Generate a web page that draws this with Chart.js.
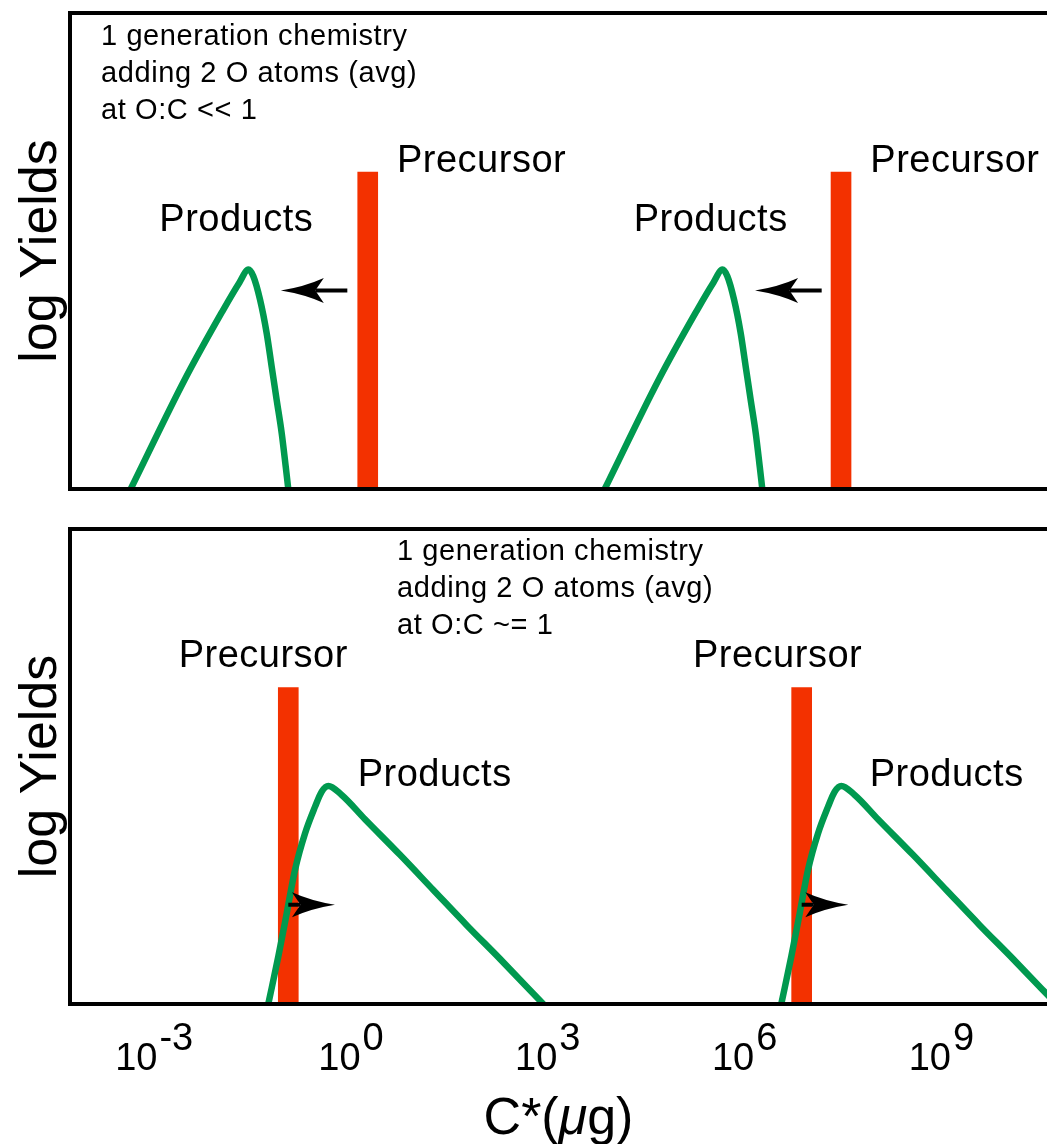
<!DOCTYPE html>
<html>
<head>
<meta charset="utf-8">
<script src="https://cdn.jsdelivr.net/npm/chart.js@4.4.1/dist/chart.umd.min.js"></script>
<style>
html, body { margin: 0; padding: 0; background: #fff; }
#wrap { position: relative; width: 1047px; height: 1144px; overflow: hidden; }
#topChart { position: absolute; left: 0; top: 0; }
#bottomChart { position: absolute; left: 0; top: 510px; }
</style>
</head>
<body>
<div id="wrap">
  <canvas id="topChart" width="1047" height="510"></canvas>
  <canvas id="bottomChart" width="1047" height="634"></canvas>
</div>
<script>
// x = log10 C*(ug), y = log yield (arbitrary units, 0..100)
const panels = ['at O:C << 1', 'at O:C ~= 1'];
const tickExponents = [-3, 0, 3, 6, 9];
const xMin = -4.2835;
const xMax = 10.6098;

// top panel: products shifted to lower volatility
const top1X = [-3.358, -2.530, -1.966, -1.700, -1.563, -1.489, -1.387, -1.285, -1.209, -1.133, -1.056, -0.995, -0.956];
const top1Y = [0, 23.1, 37.2, 43.4, 46.1, 44.7, 39.8, 32.7, 25.7, 18.7, 11.7, 4.7, 0];
const top2X = [3.868, 4.696, 5.260, 5.526, 5.663, 5.737, 5.839, 5.941, 6.017, 6.093, 6.170, 6.231, 6.270];
const top2Y = [0, 23.1, 37.2, 43.4, 46.1, 44.7, 39.8, 32.7, 25.7, 18.7, 11.7, 4.7, 0];
const topPrecX = [0.255, 7.47];
const topPrecY = [66.6, 66.6];
const topArrowFrom = [-0.056, 7.175];
const topArrowTo = [-1.07, 6.159];
const topArrowY = [41.7, 41.7];

// bottom panel: products spread to higher volatility
const bot1X = [-1.261, -1.108, -0.980, -0.854, -0.701, -0.549, -0.447, -0.346, -0.142, 0.213, 0.747, 1.255, 1.764, 2.271, 2.931];
const bot1Y = [0, 10.0, 19.1, 28.2, 35.9, 41.5, 44.7, 45.9, 44.0, 38.9, 31.4, 24.0, 16.6, 9.5, 0];
const bot2X = [6.559, 6.712, 6.840, 6.966, 7.119, 7.271, 7.373, 7.474, 7.678, 8.033, 8.567, 9.075, 9.584, 10.091, 10.751];
const bot2Y = [0, 10.0, 19.1, 28.2, 35.9, 41.5, 44.7, 45.9, 44.0, 38.9, 31.4, 24.0, 16.6, 9.5, 0];
const botPrecX = [-0.956, 6.87];
const botPrecY = [66.6, 66.6];
const botArrowFrom = [-0.956, 6.87];
const botArrowTo = [-0.244, 7.581];
const botArrowY = [20.9, 20.9];

const FONT = '"Liberation Sans", Arial, Helvetica, sans-serif';
const GREEN = '#00994f';
const RED = '#f33100';

Chart.defaults.font.family = FONT;

function pts(xs, ys) {
    return xs.map((v, i) => ({x: v, y: ys[i]}));
}

function drawText(ctx, txt, x, y, size, spacing) {
    ctx.save();
    ctx.font = size + 'px ' + FONT;
    ctx.letterSpacing = spacing + 'px';
    ctx.fillStyle = '#000';
    ctx.textAlign = 'left';
    ctx.textBaseline = 'alphabetic';
    ctx.fillText(txt, x, y);
    ctx.restore();
}

function drawArrow(ctx, x0, x1, y) {
    const dir = Math.sign(x1 - x0);
    const len = 43, half = 12.5, notch = 8.5;
    const bx = x1 - dir * len;
    ctx.save();
    ctx.strokeStyle = '#000';
    ctx.fillStyle = '#000';
    ctx.lineWidth = 4;
    ctx.beginPath();
    ctx.moveTo(x0, y);
    ctx.lineTo(bx + dir * notch, y);
    ctx.stroke();
    ctx.beginPath();
    ctx.moveTo(x1, y);
    ctx.quadraticCurveTo(x1 - dir * len * 0.55, y - half * 0.3, bx, y - half);
    ctx.lineTo(bx + dir * notch, y);
    ctx.lineTo(bx, y + half);
    ctx.quadraticCurveTo(x1 - dir * len * 0.55, y + half * 0.3, x1, y);
    ctx.closePath();
    ctx.fill();
    ctx.restore();
}

function notesPlugin(p) {
    return {
        id: 'notes',
        afterDatasetsDraw(chart) {
            const {ctx, scales: {x, y}} = chart;
            p.arrowFrom.forEach((f, i) => {
                drawArrow(ctx, x.getPixelForValue(f), x.getPixelForValue(p.arrowTo[i]), y.getPixelForValue(p.arrowY[i]));
            });
            p.labels.forEach(l => {
                drawText(ctx, l.text, x.getPixelForValue(l.x), y.getPixelForValue(l.y), 38, 0.5);
            });
            p.note.lines.forEach((t, i) => {
                drawText(ctx, t, x.getPixelForValue(p.note.x), y.getPixelForValue(p.note.y) + i * 37, 29, 0.6);
            });
        }
    };
}

// tick labels 10^n and the axis title, only under the bottom panel
const axisLabels = {
    id: 'axisLabels',
    afterDraw(chart) {
        const {ctx, chartArea, scales: {x}} = chart;
        ctx.save();
        ctx.fillStyle = '#000';
        ctx.textBaseline = 'alphabetic';
        ctx.textAlign = 'left';
        ctx.font = '38px ' + FONT;
        for (let e of tickExponents) {
            const px = x.getPixelForValue(e);
            const ex = String(e);
            const w10 = ctx.measureText('10').width;
            const we = ctx.measureText(ex).width;
            const start = px - (w10 + 2 + we) / 2;
            ctx.fillText('10', start, chartArea.bottom + 65.5);
            ctx.fillText(ex, start + w10 + 2, chartArea.bottom + 46);
        }
        // C*(μg)
        const parts = [['C*(', ''], ['\u03bc', 'italic '], ['g)', '']];
        let total = 0;
        for (let pt of parts) {
            ctx.font = pt[1] + '52px ' + FONT;
            total += ctx.measureText(pt[0]).width;
        }
        let cx = (chartArea.left + chartArea.right) / 2 - total / 2;
        for (let pt of parts) {
            ctx.font = pt[1] + '52px ' + FONT;
            ctx.fillText(pt[0], cx, chartArea.bottom + 129.5);
            cx += ctx.measureText(pt[0]).width;
        }
        ctx.restore();
    }
};

function makePanel(id, p) {
    const border = {display: true, color: '#000', width: 4, z: 1};
    return new Chart(document.getElementById(id), {
        type: 'line',
        data: {
            datasets: [
                {type: 'line', label: 'Products', data: pts(p.c1x, p.c1y), borderColor: GREEN, borderWidth: 6.5,
                 pointRadius: 0, fill: false, cubicInterpolationMode: 'monotone', borderJoinStyle: 'round', order: 1},
                {type: 'line', label: 'Products', data: pts(p.c2x, p.c2y), borderColor: GREEN, borderWidth: 6.5,
                 pointRadius: 0, fill: false, cubicInterpolationMode: 'monotone', borderJoinStyle: 'round', order: 1},
                {type: 'bar', label: 'Precursor', data: pts(p.precX, p.precY), backgroundColor: RED,
                 barThickness: 20, borderWidth: 0, order: 2}
            ]
        },
        options: {
            responsive: false,
            animation: false,
            events: [],
            layout: {padding: 0},
            plugins: {legend: {display: false}, tooltip: {enabled: false}},
            scales: {
                x: {
                    type: 'linear', position: 'bottom', min: xMin, max: xMax, offset: false,
                    ticks: {display: false}, grid: {display: false}, border: border,
                    afterFit: s => { s.height = p.bottomPad; }
                },
                xTop: {
                    type: 'linear', position: 'top', min: xMin, max: xMax, offset: false,
                    ticks: {display: false}, grid: {display: false}, border: border,
                    afterFit: s => { s.height = p.topPad; }
                },
                y: {
                    type: 'linear', position: 'left', min: 0, max: 100,
                    ticks: {display: false}, grid: {display: false}, border: border,
                    title: {display: true, text: 'log Yields', color: '#000',
                            font: {size: 52, family: FONT}, padding: {top: 10, bottom: 0}},
                    afterFit: s => { s.width = 70; }
                }
            }
        },
        plugins: p.extra ? [notesPlugin(p), p.extra] : [notesPlugin(p)]
    });
}

makePanel('topChart', {
    c1x: top1X, c1y: top1Y, c2x: top2X, c2y: top2Y,
    precX: topPrecX, precY: topPrecY,
    arrowFrom: topArrowFrom, arrowTo: topArrowTo, arrowY: topArrowY,
    topPad: 13, bottomPad: 21,
    note: {x: -3.811, y: 93.23, lines: ['1 generation chemistry', 'adding 2 O atoms (avg)', panels[0]]},
    labels: [
        {text: 'Precursor', x: 0.701, y: 66.67},
        {text: 'Precursor', x: 7.916, y: 66.67},
        {text: 'Products', x: -2.922, y: 54.11},
        {text: 'Products', x: 4.309, y: 54.11}
    ]
});

makePanel('bottomChart', {
    c1x: bot1X, c1y: bot1Y, c2x: bot2X, c2y: bot2Y,
    precX: botPrecX, precY: botPrecY,
    arrowFrom: botArrowFrom, arrowTo: botArrowTo, arrowY: botArrowY,
    topPad: 19, bottomPad: 140,
    note: {x: 0.701, y: 93.47, lines: ['1 generation chemistry', 'adding 2 O atoms (avg)', panels[1]]},
    labels: [
        {text: 'Precursor', x: -2.627, y: 71.01},
        {text: 'Precursor', x: 5.213, y: 71.01},
        {text: 'Products', x: 0.102, y: 45.89},
        {text: 'Products', x: 7.907, y: 45.89}
    ],
    extra: axisLabels
});
</script>
</body>
</html>
